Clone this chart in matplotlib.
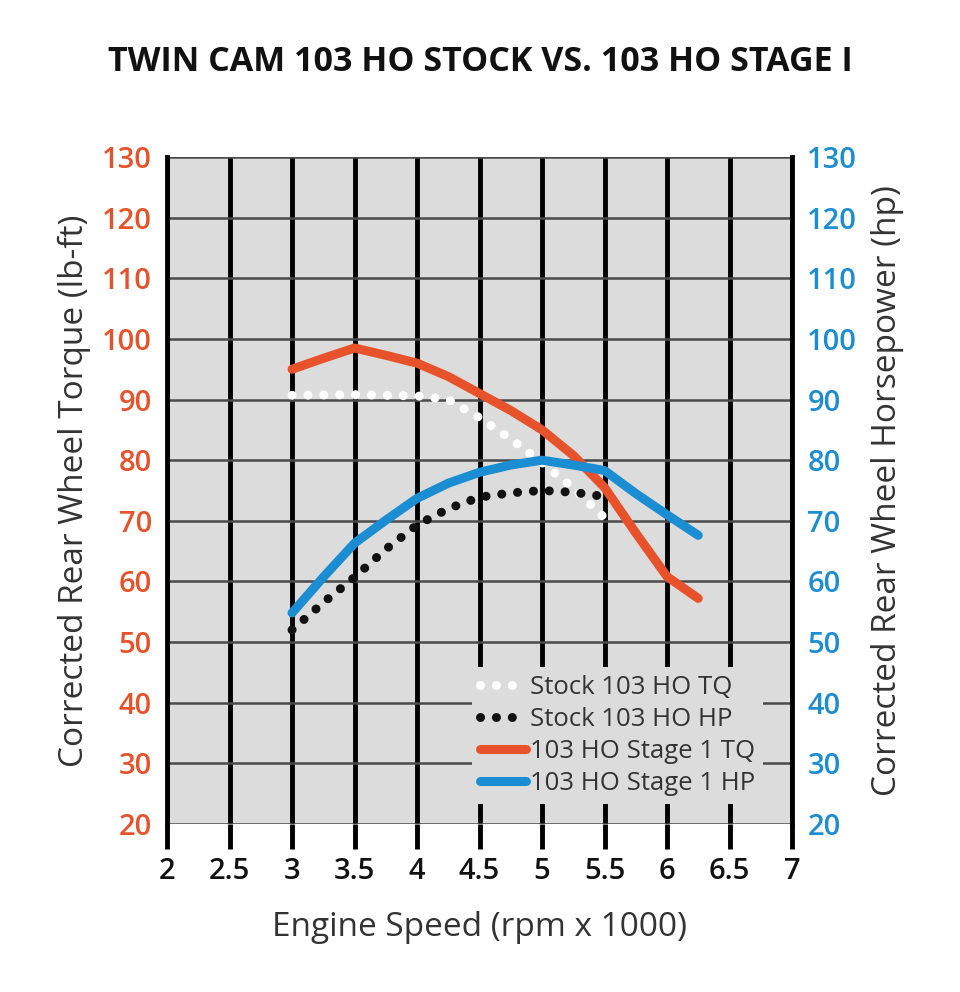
import matplotlib.pyplot as plt

plt.rcParams['font.family'] = ['Open Sans', 'DejaVu Sans']

# Engine speed (rpm x 1000) and readings
stock_tq_rpm = [3, 3.5, 4, 4.25, 4.5, 4.75, 5, 5.25, 5.5]
stock_tq = [90.7, 90.8, 90.6, 90.0, 87.0, 83.5, 79.6, 75.4, 70.5]

stock_hp_rpm = [3, 3.25, 3.5, 3.75, 4, 4.25, 4.5, 4.75, 5, 5.25, 5.5]
stock_hp = [52.0, 56.5, 60.7, 65.3, 69.3, 72.0, 73.9, 74.6, 75.0, 74.7, 74.0]

stage1_rpm = [3, 3.25, 3.5, 3.75, 4, 4.25, 4.5, 4.75, 5, 5.25, 5.5, 5.75, 6, 6.25]
stage1_tq = [95.0, 96.8, 98.5, 97.3, 96.0, 93.8, 91.0, 88.2, 85.0, 80.8, 75.5, 68.0, 60.8, 57.2]
stage1_hp = [54.8, 60.7, 66.3, 70.1, 73.7, 76.2, 78.0, 79.2, 80.0, 79.2, 78.3, 74.5, 71.0, 67.6]

x_ticks = [2, 2.5, 3, 3.5, 4, 4.5, 5, 5.5, 6, 6.5, 7]
y_ticks = [20, 30, 40, 50, 60, 70, 80, 90, 100, 110, 120, 130]

orange = '#e8522a'
blue = '#1b8dd2'
grey_bg = '#dcdcdc'

fig = plt.figure(figsize=(9.6, 9.92), dpi=100)
ax = fig.add_axes([0.174, 0.1694, 0.651, 0.6723])
ax.set_facecolor(grey_bg)

dots = (0, (0.01, 1.75))
ax.plot(stock_tq_rpm, stock_tq, color='white', lw=6.5, linestyle=dots,
        dash_capstyle='round', label='Stock 103 HO TQ', zorder=3)
ax.plot(stock_hp_rpm, stock_hp, color='#111111', lw=6.5, linestyle=dots,
        dash_capstyle='round', label='Stock 103 HO HP', zorder=3)
ax.plot(stage1_rpm, stage1_tq, color=orange, lw=6.5, solid_capstyle='round',
        solid_joinstyle='round', label='103 HO Stage 1 TQ', zorder=4)
ax.plot(stage1_rpm, stage1_hp, color=blue, lw=6.5, solid_capstyle='round',
        solid_joinstyle='round', label='103 HO Stage 1 HP', zorder=4)

ax.set_xlim(2, 7)
ax.set_ylim(20, 130)
ax.set_xticks(x_ticks)
ax.set_xticklabels([f'{t:g}' for t in x_ticks])
ax.set_yticks(y_ticks)
ax.set_axisbelow(True)
ax.grid(axis='x', color='black', lw=3.5)
ax.grid(axis='y', color='#4a4a4a', lw=1.8)

for s in ['top', 'bottom']:
    ax.spines[s].set_visible(False)
for s in ['left', 'right']:
    ax.spines[s].set_linewidth(3.5)
    ax.spines[s].set_color('black')

ax.tick_params(axis='x', direction='out', length=18, width=3.5, color='black',
               labelsize=21, pad=6, labelcolor='#111111')
ax.tick_params(axis='y', length=0, labelsize=21, labelcolor=orange, pad=11)
for lab in ax.get_xticklabels() + ax.get_yticklabels():
    lab.set_fontweight('semibold')

ax2 = ax.twinx()
ax2.set_ylim(ax.get_ylim())
ax2.set_yticks(y_ticks)
ax2.tick_params(axis='y', length=0, labelsize=21, labelcolor=blue, pad=11)
for lab in ax2.get_yticklabels():
    lab.set_fontweight('semibold')
for s in ax2.spines.values():
    s.set_visible(False)

ax.set_xlabel('Engine Speed (rpm x 1000)', fontsize=24, color='#333333', labelpad=18)
ax.set_ylabel('Corrected Rear Wheel Torque (lb-ft)', fontsize=24, color='#333333', labelpad=8)
ax2.set_ylabel('Corrected Rear Wheel Horsepower (hp)', fontsize=24, color='#333333', labelpad=10)

fig.text(0.5, 0.9375, 'TWIN CAM 103 HO STOCK VS. 103 HO STAGE I', ha='center', va='center',
         fontsize=24.5, fontweight='bold', color='#111111')

leg = ax.legend(loc='lower right', bbox_to_anchor=(0.954, 0.03), fontsize=18.5,
                frameon=True, facecolor=grey_bg, edgecolor='none', framealpha=1,
                handlelength=1.8, handletextpad=0.15, labelspacing=0.28,
                borderpad=0.3, borderaxespad=0, fancybox=False)
leg.set_zorder(10)
for t in leg.get_texts():
    t.set_color('#333333')

fig.savefig('out.png', dpi=100)
